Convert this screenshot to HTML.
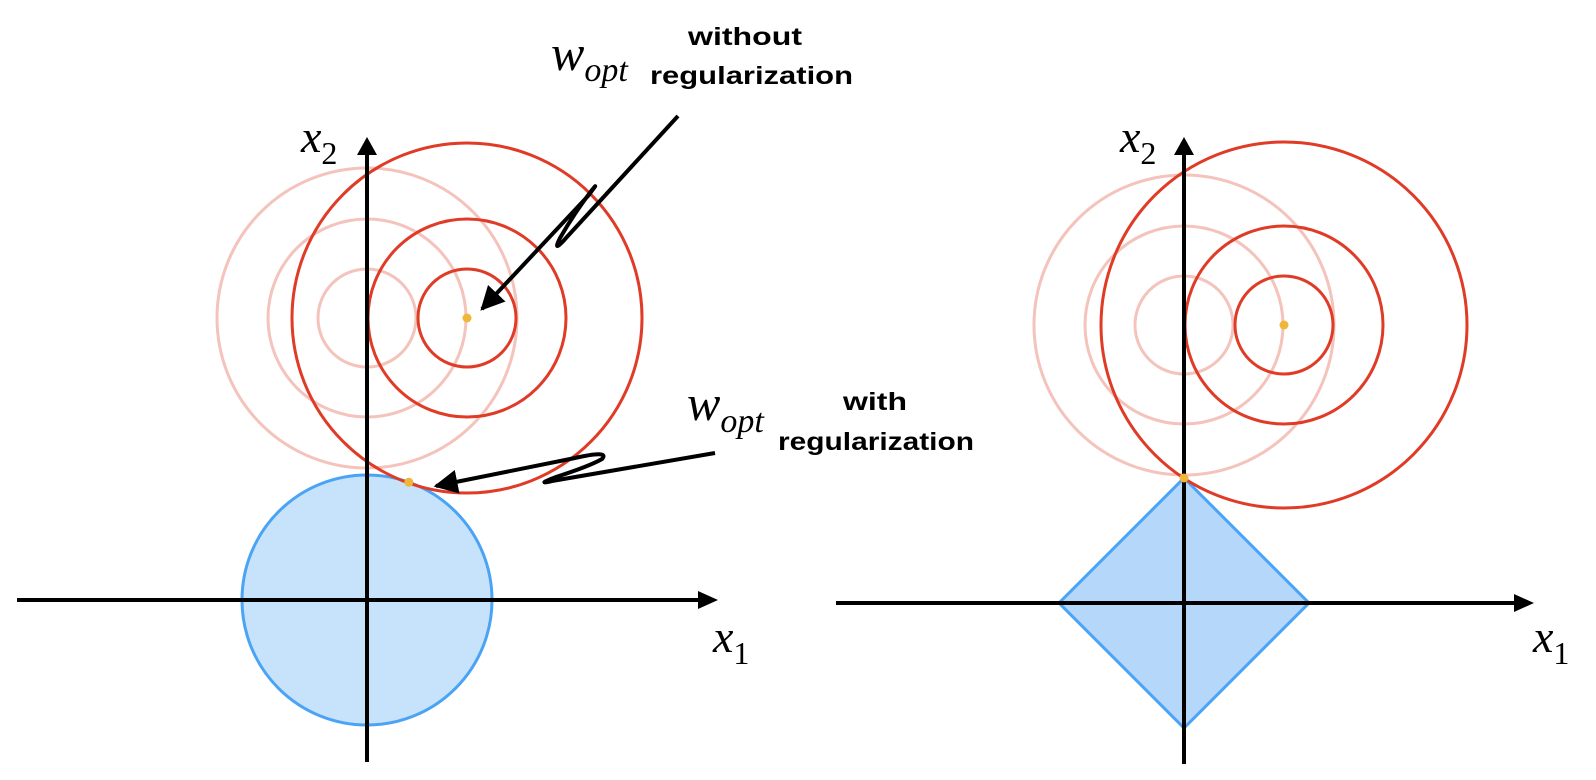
<!DOCTYPE html>
<html><head><meta charset="utf-8"><style>
html,body{margin:0;padding:0;background:#fff;width:1596px;height:780px;overflow:hidden}
svg{display:block}
.lab{font-family:"Liberation Serif",serif;font-style:italic}
.sub{font-family:"Liberation Serif",serif;font-style:normal}
.ann{font-family:"Liberation Sans",sans-serif;font-weight:bold;font-size:25px}
</style></head><body>
<svg id="chart" width="1596" height="780" viewBox="0 0 1596 780" xmlns="http://www.w3.org/2000/svg">
<defs>
<marker id="ah" viewBox="0 0 10 10" refX="9" refY="5" markerWidth="6" markerHeight="6" orient="auto"><path d="M0,0 L10,5 L0,10 z" fill="#000"/></marker>
</defs>
<g id="left"></g>
<g id="right"></g>
<g id="anno">
<path d="M678,116 L566,238 Q552,254 560,238 Q575,212 592,190 Q600,180 588,196 L482,309" fill="none" stroke="#000" stroke-width="4" marker-end="url(#ah)"/>
<path d="M715,453 L552,481 Q535,485 556,477 Q590,466 602,459 Q610,450 575,458 L436,486" fill="none" stroke="#000" stroke-width="4" marker-end="url(#ah)"/>
<text class="lab" x="551" y="70" font-size="50">w<tspan dy="11" font-size="34">opt</tspan></text>
<text class="ann" x="688" y="45" textLength="114" lengthAdjust="spacingAndGlyphs">without</text>
<text class="ann" x="650" y="84" textLength="203" lengthAdjust="spacingAndGlyphs">regularization</text>
<text class="lab" x="687" y="420" font-size="50">w<tspan dy="12" font-size="34">opt</tspan></text>
<text class="ann" x="843" y="410" textLength="64" lengthAdjust="spacingAndGlyphs">with</text>
<text class="ann" x="778" y="450" textLength="196" lengthAdjust="spacingAndGlyphs">regularization</text>
</g>
</svg>
<script>
const NS="http://www.w3.org/2000/svg";
// panel data
const panelNames=["left","right"];
const originX=[367,1184];
const originY=[600,603];
const optX=[467,1284];
const optY=[318,325];
const redRadii=[[49,99,175],[49,99,183]];
const pinkRadii=[49,99,150];
const regSize=125;
function mk(parent,tag,attrs){const e=document.createElementNS(NS,tag);for(const k in attrs)e.setAttribute(k,attrs[k]);parent.appendChild(e);return e;}
panelNames.forEach((p,i)=>{
  const g=document.getElementById(p);
  const ox=originX[i],oy=originY[i];
  let reg;
  if(i===0){reg=mk(g,"circle",{cx:ox,cy:oy,r:regSize,fill:"#c7e3fb",stroke:"#4aa3f5","stroke-width":3});}
  else{reg=mk(g,"polygon",{points:`${ox},${oy-regSize} ${ox+regSize},${oy} ${ox},${oy+regSize} ${ox-regSize},${oy}`,fill:"#b5d8fa",stroke:"#4aa3f5","stroke-width":3});}
  
  
  pinkRadii.forEach(r=>{
    const c=mk(g,"circle",{cx:ox,cy:optY[i],r:r,fill:"none",stroke:"#f3c3bc","stroke-width":3});
    
    
  });
  redRadii[i].forEach(r=>{
    const c=mk(g,"circle",{cx:optX[i],cy:optY[i],r:r,fill:"none",stroke:"#df3b26","stroke-width":3});
    
    
  });
  const xa=mk(g,"line",{x1:i?836:17,y1:oy,x2:i?1520:705,y2:oy,stroke:"#000","stroke-width":4});
  
  
  const xh=mk(g,"polygon",{points:`${i?1534:718},${oy} ${i?1514:698},${oy-9} ${i?1514:698},${oy+9}`,fill:"#000"});
  
  
  const ya=mk(g,"line",{x1:ox,y1:150,x2:ox,y2:i?764:762,stroke:"#000","stroke-width":4});
  
  
  const yh=mk(g,"polygon",{points:`${ox},137 ${ox-10},155 ${ox+10},155`,fill:"#000"});
  
  
  const dx=optX[i]-ox,dy=optY[i]-oy,d=Math.hypot(dx,dy);
  const tx=i?ox:ox+regSize*dx/d, ty=i?oy-regSize:oy+regSize*dy/d;
  [[optX[i],optY[i],'optimum-unregularized'],[tx,ty,'optimum-regularized']].forEach(pt=>{
    const c=mk(g,"circle",{cx:pt[0],cy:pt[1],r:4.5,fill:"#f0b63a"});
    
    
  });
  const x2=mk(g,"text",{x:i?1120:301,y:152,"font-size":46,class:"lab"});
  x2.textContent="x";
  
  
  const s2=mk(x2,"tspan",{dy:12,"font-size":32,class:"sub"});s2.textContent="2";
  const x1=mk(g,"text",{x:i?1533:713,y:652,"font-size":46,class:"lab"});
  x1.textContent="x";
  
  
  const s1=mk(x1,"tspan",{dy:12,"font-size":32,class:"sub"});s1.textContent="1";
});
</script>
</body></html>
